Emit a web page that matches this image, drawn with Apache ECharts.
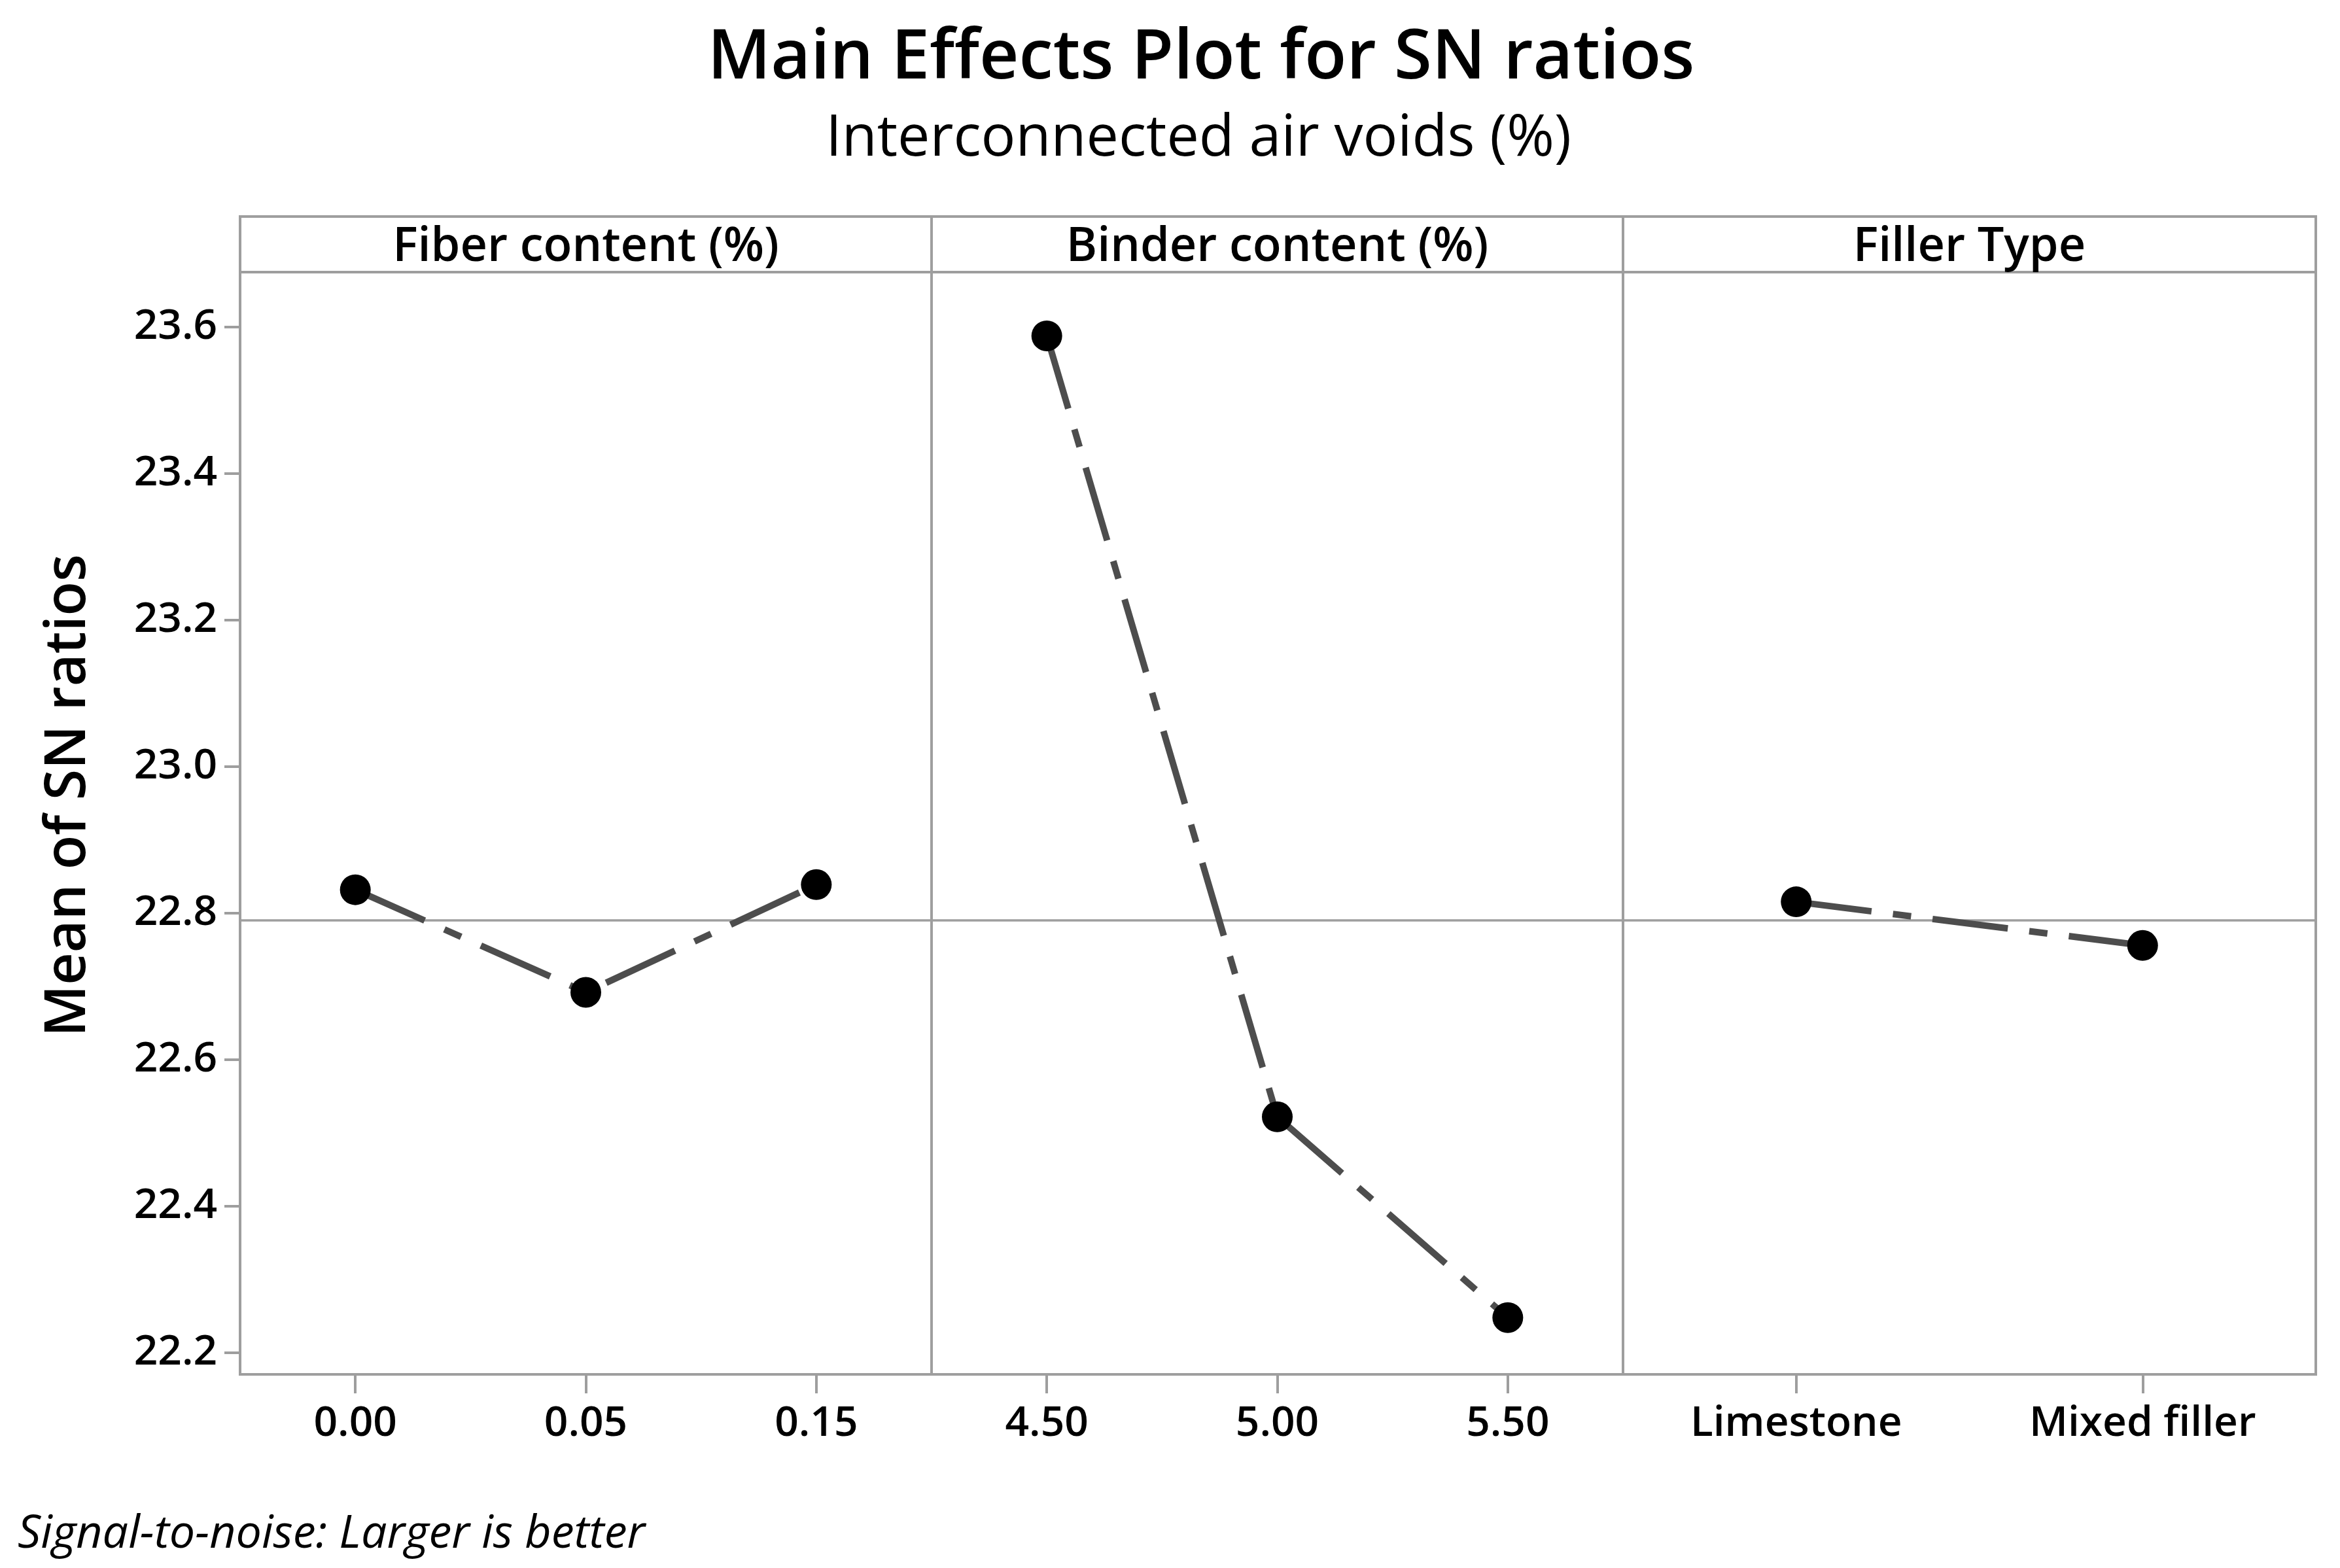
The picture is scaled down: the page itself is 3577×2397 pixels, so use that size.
<!DOCTYPE html>
<html>
<head>
<meta charset="utf-8">
<title>Main Effects Plot for SN ratios</title>
<script src="https://cdn.jsdelivr.net/npm/echarts@6/dist/echarts.min.js"></script>
<style>
  html, body { margin: 0; padding: 0; background: #ffffff; }
  #chart { width: 3577px; height: 2397px; }
</style>
</head>
<body>
<div id="chart"></div>
<script>
// ---------------- data ----------------
const fiberCats = ['0.00', '0.05', '0.15'];
const fiberVals = [22.832, 22.692, 22.839];

const binderCats = ['4.50', '5.00', '5.50'];
const binderVals = [23.588, 22.522, 22.248];

const fillerCats = ['Limestone', 'Mixed filler'];
const fillerVals = [22.8155, 22.756];

const panelTitles = ['Fiber content (%)', 'Binder content (%)', 'Filler Type'];
const yTicks = [22.2, 22.4, 22.6, 22.8, 23.0, 23.2, 23.4, 23.6];
const overallMean = 22.786;
const yMin = 22.1705;
const yMax = 23.675;

// ---------------- layout / style ----------------
const FONT = '"Open Sans", "Noto Sans", sans-serif';
const GREY = '#9e9e9e';
const LINE = '#4d4d4d';
const panels = [
  { left: 367, width: 1057 },
  { left: 1424, width: 1057 },
  { left: 2481, width: 1059 }
];
const dataTop = 416, dataH = 1685;
const frameTop = 331, frameH = 1770;

const cats = [fiberCats, binderCats, fillerCats];
const vals = [fiberVals, binderVals, fillerVals];

const grids = [], xAxes = [], yAxes = [], series = [];

panels.forEach((p) => {
  grids.push({
    left: p.left, top: dataTop, width: p.width, height: dataH,
    show: true, borderColor: GREY, borderWidth: 4, backgroundColor: 'transparent', z: 3
  });
});
panels.forEach((p) => {
  grids.push({
    left: p.left, top: frameTop, width: p.width, height: frameH,
    show: true, borderColor: GREY, borderWidth: 4, backgroundColor: '#ffffff', z: 1
  });
});

for (let i = 0; i < 3; i++) {
  xAxes.push({
    type: 'category', gridIndex: i, data: cats[i], boundaryGap: true,
    axisLine: { show: false },
    axisTick: { show: true, alignWithLabel: true, interval: 0, length: 29, lineStyle: { color: GREY, width: 4 } },
    axisLabel: { interval: 0, margin: 44, color: '#000', fontFamily: FONT, fontWeight: 600, fontSize: 64 },
    splitLine: { show: false }
  });
  yAxes.push({
    type: 'value', gridIndex: i, min: yMin, max: yMax, show: i === 0,
    axisLine: { show: false },
    axisTick: { show: true, length: 24, customValues: yTicks, lineStyle: { color: GREY, width: 4 } },
    axisLabel: {
      margin: 35, color: '#000', fontFamily: FONT, fontWeight: 600, fontSize: 64,
      customValues: yTicks, formatter: v => Number(v).toFixed(1)
    },
    splitLine: { show: false }
  });
  series.push({
    type: 'line', xAxisIndex: i, yAxisIndex: i, data: vals[i],
    symbol: 'circle', symbolSize: 47, showSymbol: true,
    itemStyle: { color: '#000000' },
    lineStyle: { color: LINE, width: 10, type: [116, 33, 28, 33] },
    z: 5, silent: true, animation: false,
    markLine: {
      silent: true, symbol: 'none', animation: false,
      label: { show: false },
      lineStyle: { color: GREY, width: 3.5, type: 'solid' },
      data: [{ yAxis: overallMean }],
      z: 4
    }
  });
}
for (let i = 0; i < 3; i++) {
  xAxes.push({ type: 'value', gridIndex: 3 + i, show: false, min: 0, max: 1 });
  yAxes.push({ type: 'value', gridIndex: 3 + i, show: false, min: 0, max: 1 });
}

const graphics = [
  { type: 'text', x: 1836, y: 90, z: 10,
    style: { text: 'Main Effects Plot for SN ratios', fill: '#000', font: '600 105px ' + FONT, textAlign: 'center', textVerticalAlign: 'middle' } },
  { type: 'text', x: 1832, y: 213, z: 10,
    style: { text: 'Interconnected air voids (%)', fill: '#000', font: '500 88px ' + FONT, textAlign: 'center', textVerticalAlign: 'middle' } },
  { type: 'text', x: 105, y: 1216, rotation: Math.PI / 2, z: 10,
    style: { text: 'Mean of SN ratios', fill: '#000', font: '600 86px ' + FONT, textAlign: 'center', textVerticalAlign: 'middle' } },
  { type: 'text', x: 27, y: 2346, z: 10,
    style: { text: 'Signal-to-noise: Larger is better', fill: '#000', font: 'italic 400 70px ' + FONT, textAlign: 'left', textVerticalAlign: 'middle' } }
];
panels.forEach((p, i) => {
  graphics.push({
    type: 'text', x: p.left + p.width / 2, y: 378, z: 10,
    style: { text: panelTitles[i], fill: '#000', font: '600 72px ' + FONT, textAlign: 'center', textVerticalAlign: 'middle' }
  });
});

const chart = echarts.init(document.getElementById('chart'), null, { renderer: 'canvas' });
chart.setOption({
  backgroundColor: '#ffffff',
  animation: false,
  grid: grids,
  xAxis: xAxes,
  yAxis: yAxes,
  series: series,
  graphic: { elements: graphics }
});
</script>
</body>
</html>
